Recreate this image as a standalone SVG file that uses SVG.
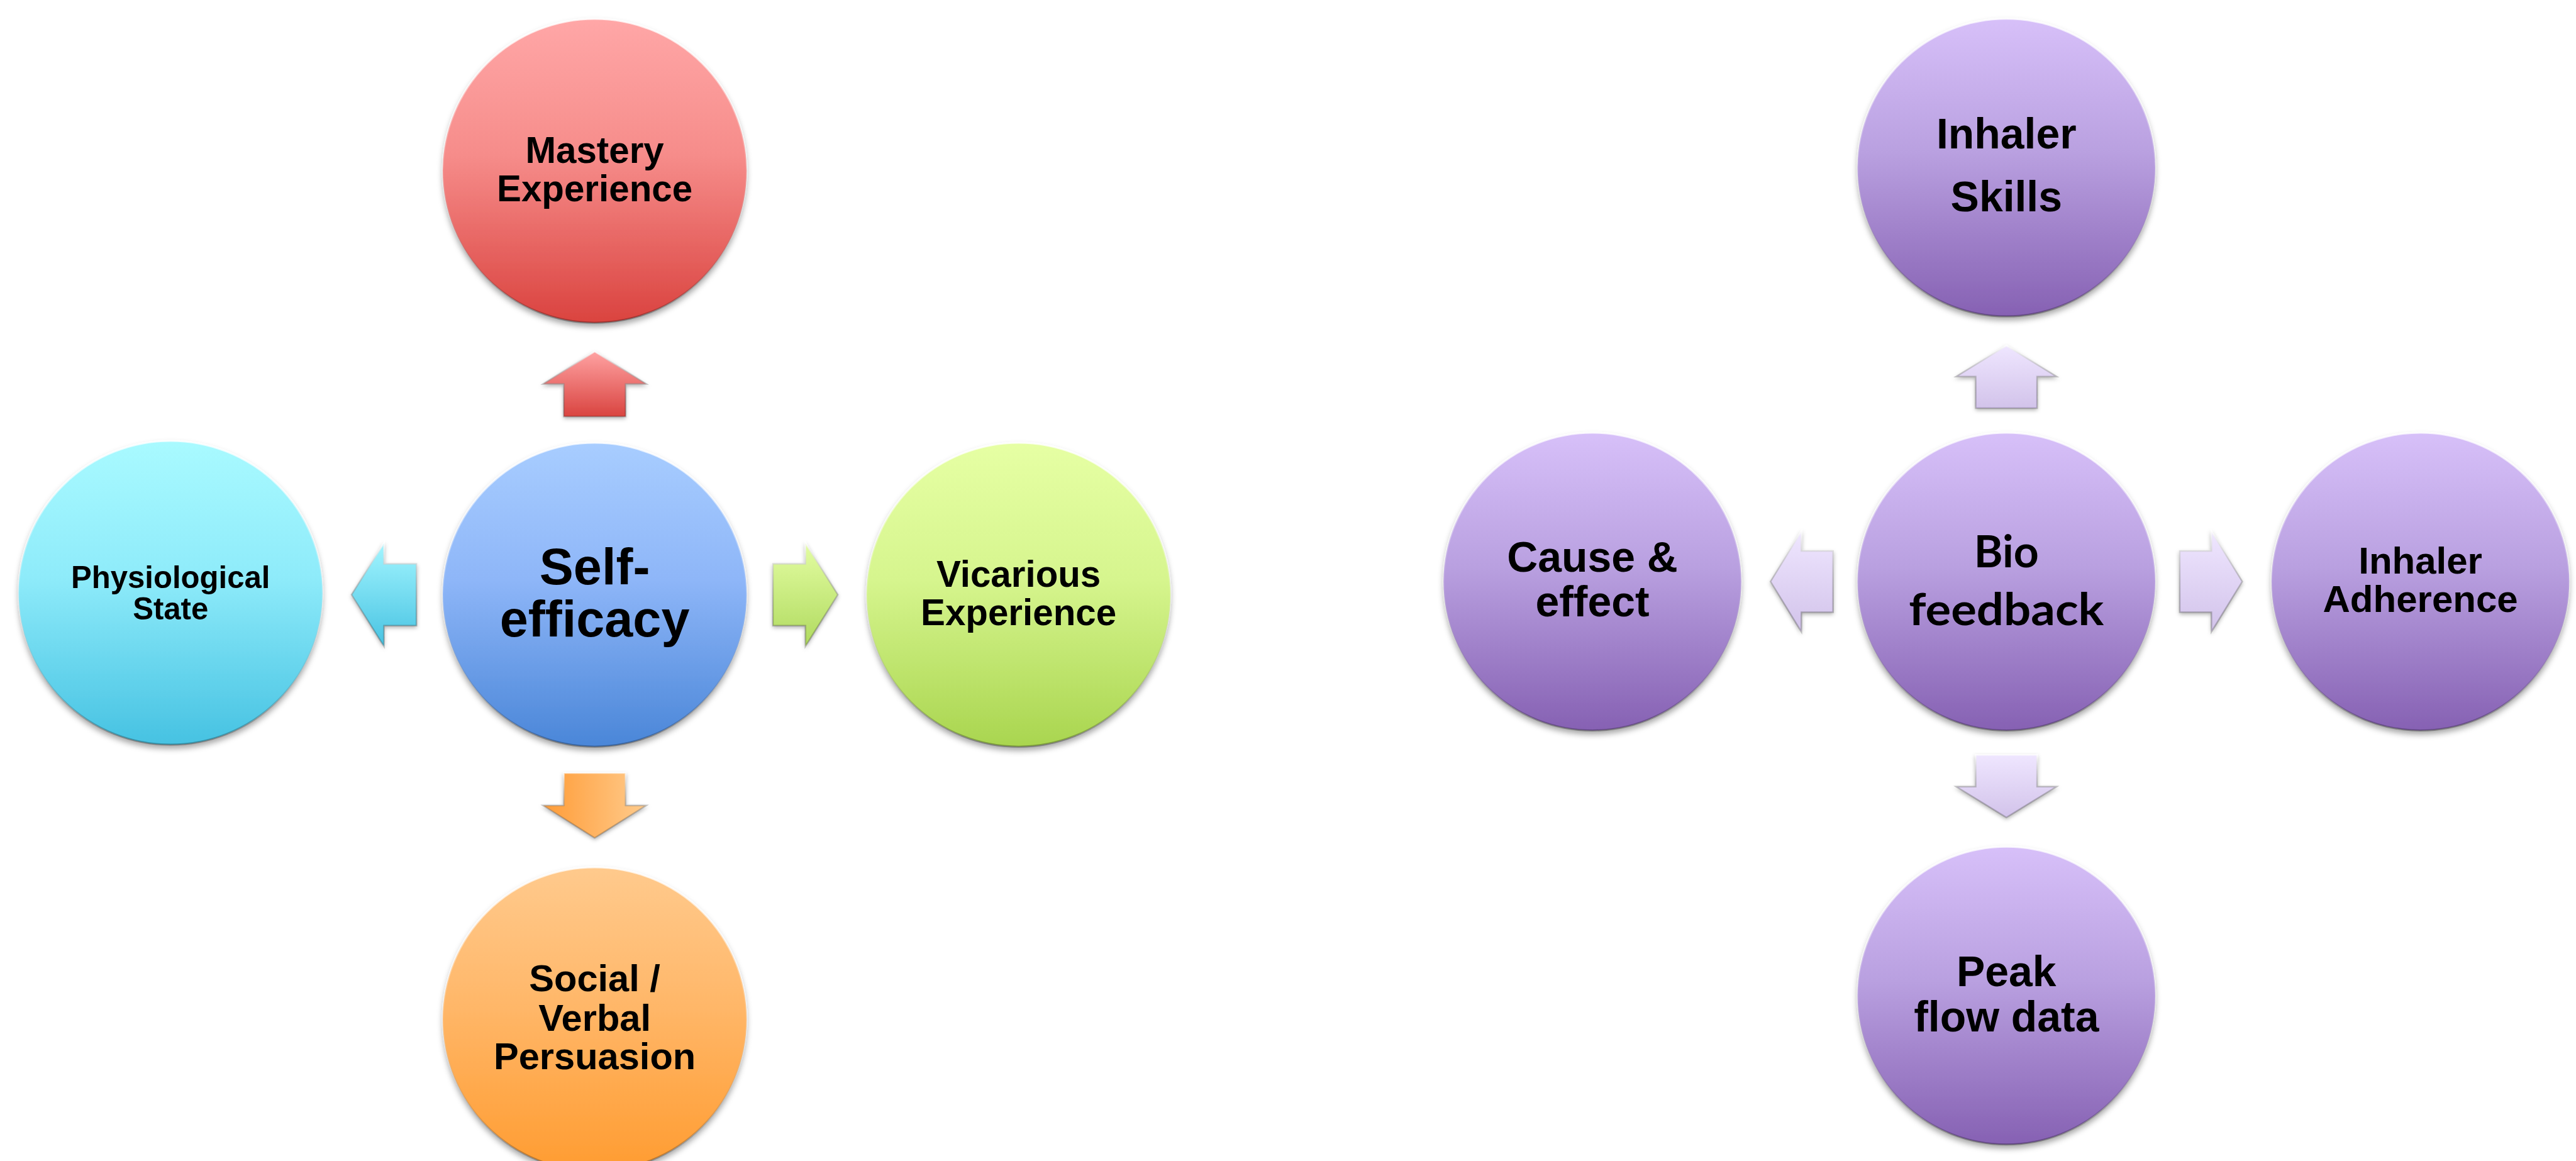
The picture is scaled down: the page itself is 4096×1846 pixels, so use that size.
<svg xmlns="http://www.w3.org/2000/svg" width="4096" height="1846" viewBox="0 0 4096 1846">
<style>
.t{font-family:"Liberation Sans",Arial,sans-serif;font-weight:bold;fill:#000;text-anchor:middle}
.c{font-family:Lato,"Open Sans",sans-serif;font-weight:bold;fill:#000;text-anchor:middle}
.node circle{filter:url(#sh);stroke:url(#rim);stroke-width:3}
.arr path{filter:url(#sh2);stroke:url(#arim);stroke-width:2.5;stroke-linejoin:miter}
</style>
<defs>
<filter id="sh" x="-20%" y="-20%" width="140%" height="150%"><feDropShadow dx="0" dy="6" stdDeviation="5" flood-color="#000" flood-opacity="0.35"/></filter>
<filter id="sh2" x="-30%" y="-30%" width="160%" height="160%"><feDropShadow dx="0" dy="3" stdDeviation="3" flood-color="#000" flood-opacity="0.3"/></filter>
<linearGradient id="rim" x1="0" y1="0" x2="0" y2="1"><stop offset="0" stop-color="#fff" stop-opacity="0.8"/><stop offset="0.5" stop-color="#fff" stop-opacity="0.1"/><stop offset="1" stop-color="#000" stop-opacity="0.3"/></linearGradient>
<linearGradient id="arim" x1="0" y1="0" x2="0" y2="1"><stop offset="0" stop-color="#fff" stop-opacity="0.7"/><stop offset="1" stop-color="#000" stop-opacity="0.2"/></linearGradient>
<linearGradient id="gRed" x1="0" y1="0" x2="0" y2="1"><stop offset="0" stop-color="#FFA7A7"/><stop offset="0.45" stop-color="#F68C8A"/><stop offset="1" stop-color="#DA433F"/></linearGradient>
<linearGradient id="gBlue" x1="0" y1="0" x2="0" y2="1"><stop offset="0" stop-color="#A8CDFF"/><stop offset="0.45" stop-color="#8EB6F8"/><stop offset="1" stop-color="#4A86D8"/></linearGradient>
<linearGradient id="gCyan" x1="0" y1="0" x2="0" y2="1"><stop offset="0" stop-color="#A9FAFF"/><stop offset="0.45" stop-color="#8EEBFA"/><stop offset="1" stop-color="#46C2E2"/></linearGradient>
<linearGradient id="gGreen" x1="0" y1="0" x2="0" y2="1"><stop offset="0" stop-color="#E6FFA4"/><stop offset="0.45" stop-color="#D6F58E"/><stop offset="1" stop-color="#A9D54F"/></linearGradient>
<linearGradient id="gOrange" x1="0" y1="0" x2="0" y2="1"><stop offset="0" stop-color="#FFCA8D"/><stop offset="0.45" stop-color="#FFB769"/><stop offset="1" stop-color="#FF9C31"/></linearGradient>
<linearGradient id="gPurple" x1="0" y1="0" x2="0" y2="1"><stop offset="0" stop-color="#D7C0F9"/><stop offset="0.45" stop-color="#B9A0E0"/><stop offset="1" stop-color="#8661B3"/></linearGradient>
<linearGradient id="aRed" x1="0" y1="0" x2="0" y2="1"><stop offset="0" stop-color="#FFA2A2"/><stop offset="1" stop-color="#D94440"/></linearGradient>
<linearGradient id="aGreen" x1="0" y1="0" x2="0" y2="1"><stop offset="0" stop-color="#E3FDA2"/><stop offset="1" stop-color="#B0DA5F"/></linearGradient>
<linearGradient id="aCyan" x1="0" y1="0" x2="0" y2="1"><stop offset="0" stop-color="#A2F5FF"/><stop offset="1" stop-color="#48C3E2"/></linearGradient>
<linearGradient id="aOrange" x1="0" y1="0" x2="1" y2="0"><stop offset="0" stop-color="#FF9C38"/><stop offset="1" stop-color="#FFCB8C"/></linearGradient>
<linearGradient id="aPurple" x1="0" y1="0" x2="0" y2="1"><stop offset="0" stop-color="#EFE6FF"/><stop offset="1" stop-color="#D2C3EA"/></linearGradient>
</defs>
<rect width="4096" height="1846" fill="#fff"/>

<g id="connectors">
<g class="arr">
<path id="arrow-mastery" fill="url(#aRed)" d="M945.6,559 L1027.6,610.5 L994.7,610.5 L994.7,662.2 L896.5,662.2 L896.5,610.5 L863.6,610.5 Z"/>
<path id="arrow-social" fill="url(#aOrange)" d="M945.6,1332.2 L1027.6,1280.7 L994.7,1280.7 L994.7,1229 L896.5,1229 L896.5,1280.7 L863.6,1280.7 Z"/>
<path id="arrow-vicarious" fill="url(#aGreen)" d="M1332.2,945.6 L1280.7,1027.6 L1280.7,994.7 L1229,994.7 L1229,896.5 L1280.7,896.5 L1280.7,863.6 Z"/>
<path id="arrow-physio" fill="url(#aCyan)" d="M559,945.6 L610.5,1027.6 L610.5,994.7 L662.2,994.7 L662.2,896.5 L610.5,896.5 L610.5,863.6 Z"/>
<path id="arrow-skills" fill="url(#aPurple)" d="M3190.3,549.6 L3270.2,598.7 L3239.1,598.7 L3239.1,649.1 L3141.5,649.1 L3141.5,598.7 L3110.4,598.7 Z"/>
<path id="arrow-peak" fill="url(#aPurple)" d="M3190.3,1299.8 L3270.2,1250.7 L3239.1,1250.7 L3239.1,1200.3 L3141.5,1200.3 L3141.5,1250.7 L3110.4,1250.7 Z"/>
<path id="arrow-adherence" fill="url(#aPurple)" d="M3565.4,924.7 L3516.3,1004.6 L3516.3,973.5 L3465.9,973.5 L3465.9,875.9 L3516.3,875.9 L3516.3,844.8 Z"/>
<path id="arrow-cause" fill="url(#aPurple)" d="M2815.2,924.7 L2864.3,1004.6 L2864.3,973.5 L2914.7,973.5 L2914.7,875.9 L2864.3,875.9 L2864.3,844.8 Z"/>
</g>
</g>

<g id="node-mastery" class="node">
<circle cx="945.6" cy="271.6" r="241.6" fill="url(#gRed)"/>
<text class="t" font-size="58.3" x="945.6" y="259.4">Mastery</text>
<text class="t" font-size="58.3" x="945.6" y="320">Experience</text>
</g>
<g id="node-selfefficacy" class="node">
<circle cx="945.6" cy="945.6" r="241.6" fill="url(#gBlue)"/>
<text class="t" font-size="81" x="945.6" y="928.6">Self-</text>
<text class="t" font-size="81" x="945.6" y="1012.2">efficacy</text>
</g>
<g id="node-physiological" class="node">
<circle cx="271.2" cy="942.5" r="241.6" fill="url(#gCyan)"/>
<text class="t" font-size="49.1" x="271.2" y="935.2">Physiological</text>
<text class="t" font-size="49.1" x="271.2" y="984.8">State</text>
</g>
<g id="node-vicarious" class="node">
<circle cx="1619.6" cy="945.6" r="241.6" fill="url(#gGreen)"/>
<text class="t" font-size="58.3" x="1619.6" y="933">Vicarious</text>
<text class="t" font-size="58.3" x="1619.6" y="993.7">Experience</text>
</g>
<g id="node-social" class="node">
<circle cx="945.6" cy="1620.5" r="241.6" fill="url(#gOrange)"/>
<text class="t" font-size="59.6" x="945.6" y="1576.4">Social /</text>
<text class="t" font-size="59.6" x="945.6" y="1638.6">Verbal</text>
<text class="t" font-size="59.6" x="945.6" y="1700.2">Persuasion</text>
</g>

<g id="node-skills" class="node">
<circle cx="3190.3" cy="266.4" r="236.7" fill="url(#gPurple)"/>
<text class="t" font-size="67.9" x="3190.3" y="236.4">Inhaler</text>
<text class="t" font-size="67.9" x="3190.3" y="335.7">Skills</text>
</g>
<g id="node-biofeedback" class="node">
<circle cx="3190.3" cy="924.7" r="236.7" fill="url(#gPurple)"/>
<text class="c" font-size="71" x="3190.3" y="902" textLength="103" lengthAdjust="spacingAndGlyphs">Bio</text>
<text class="c" font-size="71" x="3190.3" y="993.7" textLength="310" lengthAdjust="spacingAndGlyphs">feedback</text>
</g>
<g id="node-cause" class="node">
<circle cx="2532" cy="924.7" r="236.7" fill="url(#gPurple)"/>
<text class="t" font-size="67.9" x="2532" y="909">Cause &amp;</text>
<text class="t" font-size="67.9" x="2532" y="980">effect</text>
</g>
<g id="node-adherence" class="node">
<circle cx="3848.6" cy="924.7" r="236.7" fill="url(#gPurple)"/>
<text class="t" font-size="60" x="3848.6" y="911.6">Inhaler</text>
<text class="t" font-size="60" x="3848.6" y="973.3">Adherence</text>
</g>
<g id="node-peak" class="node">
<circle cx="3190.3" cy="1583" r="236.7" fill="url(#gPurple)"/>
<text class="t" font-size="67.9" x="3190.3" y="1567.5">Peak</text>
<text class="t" font-size="67.9" x="3190.3" y="1640.2">flow data</text>
</g>
</svg>
